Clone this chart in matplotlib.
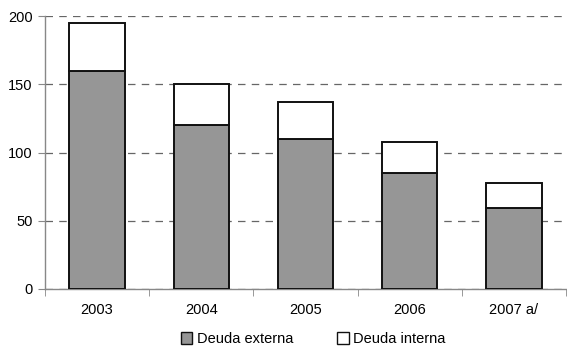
import matplotlib
matplotlib.use("Agg")
import matplotlib.pyplot as plt
from matplotlib.patches import Patch
import numpy as np

plt.rcParams['font.family'] = ['Liberation Sans', 'DejaVu Sans']

years = ["2003", "2004", "2005", "2006", "2007 a/"]
deuda_externa = [160, 120, 110, 85, 59]
deuda_interna = [35, 30, 27, 23, 19]

fig = plt.figure(figsize=(5.67, 3.47), dpi=100)
ax = fig.add_axes([45/567, 1-289/347, 521/567, 273/347])

x = np.arange(len(years))
w = 0.53
ax.bar(x, deuda_externa, w, color='#969696', edgecolor='#111111', linewidth=1.4, zorder=3,
       label='Deuda externa')
ax.bar(x, deuda_interna, w, bottom=deuda_externa, color='white', edgecolor='#111111',
       linewidth=1.4, zorder=3, label='Deuda interna')

ax.set_xlim(-0.5, len(years) - 0.5)
ax.set_ylim(0, 200)
ax.set_yticks([0, 50, 100, 150, 200])
ax.yaxis.grid(True, linestyle=(0, (6, 5)), color='#666666', linewidth=0.9, zorder=0)
ax.set_xticks(x)
ax.set_xticklabels(years)
ax.set_xticks(np.arange(-0.5, len(years)), minor=True)
ax.tick_params(axis='x', which='major', length=0, pad=10, labelsize=10.5)
ax.tick_params(axis='x', which='minor', length=5, color='#888888')
ax.tick_params(axis='y', length=5, color='#888888', labelsize=10.5, pad=4)

for s in ['top', 'right']:
    ax.spines[s].set_visible(False)
for s in ['left', 'bottom']:
    ax.spines[s].set_color('#888888')
    ax.spines[s].set_linewidth(1.0)

handles = [Patch(facecolor='#969696', edgecolor='#111111', label='Deuda externa'),
           Patch(facecolor='white', edgecolor='#111111', label='Deuda interna')]
fig.legend(handles=handles, loc='center', bbox_to_anchor=(313/567, 1-339/347), ncol=2,
           frameon=False, fontsize=10.5, handlelength=0.8, handleheight=0.8,
           handletextpad=0.3, columnspacing=3.0, borderpad=0, borderaxespad=0)

fig.savefig("out.png", dpi=100)
